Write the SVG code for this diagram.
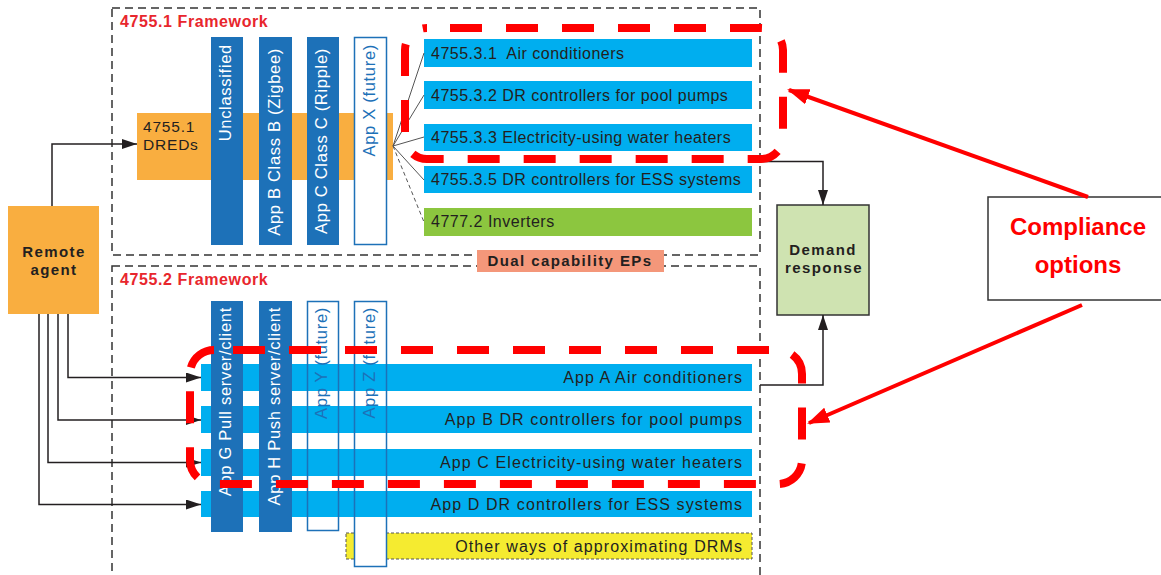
<svg xmlns="http://www.w3.org/2000/svg" width="1161" height="575" viewBox="0 0 1161 575">
<defs>
<style>
.frame{fill:none;stroke:#333;stroke-width:1.5;stroke-dasharray:8 5}
.ftitle{font-family:"Liberation Sans",Arial,sans-serif;font-weight:bold;font-size:16px;fill:#E8262D;letter-spacing:0.6px}
.orange{fill:#F9AE40}
.dbar{fill:#1D71B8}
.wbar{fill:#fff}
.wbord{fill:none;stroke:#1D71B8;stroke-width:1.5}
.row{fill:#00AEEF}
.green{fill:#8CC63F}
.vt{font-family:"Liberation Sans",Arial,sans-serif;font-size:16.5px;fill:#fff;letter-spacing:0.7px}
.vtb{font-family:"Liberation Sans",Arial,sans-serif;font-size:16.5px;fill:#1D71B8;letter-spacing:0.7px}
.rt{font-family:"Liberation Sans",Arial,sans-serif;font-size:16px;fill:#231F20;letter-spacing:0.5px}
.rtb{font-family:"Liberation Sans",Arial,sans-serif;font-size:16px;fill:#231F20;letter-spacing:1.1px;text-anchor:end}
.bold{font-family:"Liberation Sans",Arial,sans-serif;font-weight:bold;font-size:15px;fill:#231F20;letter-spacing:1.4px;text-anchor:middle}
.reg{font-family:"Liberation Sans",Arial,sans-serif;font-size:15.5px;fill:#231F20;letter-spacing:0.8px}
.conn{fill:none;stroke:#231F20;stroke-width:1.5}
.fan{fill:none;stroke:#555;stroke-width:1}
.reddash{fill:none;stroke:#FF0000;stroke-width:8;stroke-dasharray:32 24}
.redline{fill:none;stroke:#FF0000;stroke-width:4}
</style>
<marker id="ah" markerWidth="15" markerHeight="10" refX="15" refY="5" orient="auto" markerUnits="userSpaceOnUse">
<path d="M0,0 L15,5 L0,10 z" fill="#231F20"/>
</marker>
<marker id="rah" markerWidth="22" markerHeight="16" refX="20" refY="8" orient="auto" markerUnits="userSpaceOnUse">
<path d="M0,0 L22,8 L0,16 z" fill="#FF0000"/>
</marker>
</defs>

<g id="framework-4755-1">
<rect class="frame" x="112" y="8" width="648" height="247"/>
<text class="ftitle" x="120" y="27">4755.1 Framework</text>
</g>
<g id="framework-4755-2">
<rect class="frame" x="112" y="266" width="648" height="330"/>
<text class="ftitle" x="120" y="285">4755.2 Framework</text>
</g>

<g id="dual-capability">
<rect x="477" y="250" width="187" height="22" fill="#F4977A"/>
<text class="bold" x="570" y="266">Dual capability EPs</text>
</g>

<g id="dreds">
<rect class="orange" x="137" y="113" width="256" height="67"/>
<text class="reg" x="143" y="132">4755.1</text>
<text class="reg" x="143" y="150">DREDs</text>
</g>

<g id="unclassified">
<rect class="dbar" x="211" y="37" width="32" height="208"/>
<text class="vt" text-anchor="end" transform="translate(231,44) rotate(-90)">Unclassified</text>
</g>
<g id="app-b-zigbee">
<rect class="dbar" x="259" y="37" width="33" height="208"/>
<text class="vt" text-anchor="end" transform="translate(279.5,48) rotate(-90)">App B Class B (Zigbee)</text>
</g>
<g id="app-c-ripple">
<rect class="dbar" x="307" y="37" width="32" height="208"/>
<text class="vt" text-anchor="end" transform="translate(327,48) rotate(-90)">App C Class C (Ripple)</text>
</g>
<g id="app-x">
<rect class="wbar" x="354" y="37" width="33" height="208"/>
<rect class="wbord" x="354.5" y="37.5" width="32" height="207"/>
<text class="vtb" text-anchor="end" transform="translate(375,44) rotate(-90)">App X (future)</text>
</g>

<g id="r4755-3-1">
<rect class="row" x="424" y="39" width="328" height="28"/>
<text class="rt" x="431" y="59" xml:space="preserve">4755.3.1  Air conditioners</text>
</g>
<g id="r4755-3-2">
<rect class="row" x="424" y="81" width="328" height="28"/>
<text class="rt" x="431" y="101">4755.3.2 DR controllers for pool pumps</text>
</g>
<g id="r4755-3-3">
<rect class="row" x="424" y="124" width="328" height="27"/>
<text class="rt" x="431" y="143">4755.3.3 Electricity-using water heaters</text>
</g>
<g id="r4755-3-5">
<rect class="row" x="424" y="166" width="328" height="27"/>
<text class="rt" x="431" y="185">4755.3.5 DR controllers for ESS systems</text>
</g>
<g id="r4777-2">
<rect class="green" x="424" y="208" width="328" height="28"/>
<text class="rt" x="431" y="227">4777.2 Inverters</text>
</g>

<g id="remote-agent">
<rect class="orange" x="8" y="206" width="91" height="108"/>
<text class="bold" x="54" y="257">Remote</text>
<text class="bold" x="54" y="275">agent</text>
</g>

<g id="demand-response">
<rect x="777" y="205" width="92" height="110" fill="#CFE3B1" stroke="#333" stroke-width="1.5"/>
<text class="bold" x="823" y="255">Demand</text>
<text class="bold" x="824" y="273">response</text>
</g>

<g id="other-ways">
<rect x="346" y="533" width="406" height="26" fill="#F5EB30" stroke="#555" stroke-width="1" stroke-dasharray="3 2"/>
</g>
<g id="app-y-bg"><rect class="wbar" x="307" y="301" width="32" height="230"/></g>
<g id="app-z-bg"><rect class="wbar" x="354" y="301" width="33" height="266"/></g>

<g id="app-a">
<rect class="row" x="201" y="364" width="551" height="27"/>
<text class="rtb" x="743" y="383">App A Air conditioners</text>
</g>
<g id="app-b">
<rect class="row" x="201" y="406" width="551" height="27"/>
<text class="rtb" x="743" y="425">App B DR controllers for pool pumps</text>
</g>
<g id="app-c">
<rect class="row" x="201" y="449" width="551" height="27"/>
<text class="rtb" x="743" y="468">App C Electricity-using water heaters</text>
</g>
<g id="app-d">
<rect class="row" x="201" y="491" width="551" height="26"/>
<text class="rtb" x="743" y="510">App D DR controllers for ESS systems</text>
</g>
<g id="other-ways-text">
<text class="rtb" x="743" y="552">Other ways of approximating DRMs</text>
</g>

<g id="app-g">
<rect class="dbar" x="211" y="301" width="32" height="231"/>
<text class="vt" text-anchor="end" transform="translate(231,307) rotate(-90)">App G Pull server/client</text>
</g>
<g id="app-h">
<rect class="dbar" x="259" y="301" width="33" height="231"/>
<text class="vt" text-anchor="end" transform="translate(279.5,307) rotate(-90)">App H Push server/client</text>
</g>
<g id="app-y">
<rect class="wbord" x="307.5" y="301.5" width="31" height="229"/>
<text class="vtb" text-anchor="end" transform="translate(327,307) rotate(-90)">App Y (future)</text>
</g>
<g id="app-z">
<rect class="wbord" x="354.5" y="301.5" width="32" height="265"/>
<text class="vtb" text-anchor="end" transform="translate(375,307) rotate(-90)">App Z (future)</text>
</g>

<g id="compliance-options">
<rect x="988" y="197" width="185" height="103" fill="#fff" stroke="#333" stroke-width="1.5"/>
<text x="1078" y="235" text-anchor="middle" font-family="Liberation Sans, Arial, sans-serif" font-weight="bold" font-size="24" fill="#FF0000">Compliance</text>
<text x="1078" y="273" text-anchor="middle" font-family="Liberation Sans, Arial, sans-serif" font-weight="bold" font-size="24" fill="#FF0000">options</text>
</g>

<g id="connectors">
<path class="conn" d="M52,206 V144 H137" marker-end="url(#ah)"/>
<path class="conn" d="M68,314 V377.5 H201" marker-end="url(#ah)"/>
<path class="conn" d="M58,314 V420 H201" marker-end="url(#ah)"/>
<path class="conn" d="M48,314 V462.5 H201" marker-end="url(#ah)"/>
<path class="conn" d="M39,314 V504.5 H201" marker-end="url(#ah)"/>
<path class="fan" d="M393,146 L424,53 M393,146 L424,95 M393,146 L424,137 M393,146 L424,180"/>
<path class="fan" d="M393,146 L424,222" stroke-dasharray="4 3"/>
<path class="conn" d="M760,161.5 H823 V205" marker-end="url(#ah)"/>
<path class="conn" d="M760,385 H823 V315" marker-end="url(#ah)"/>
<path class="reddash" stroke-dashoffset="33" d="M427,28 H761 A22,22 0 0 1 783,50 V137 A22,22 0 0 1 761,159 H427 A22,22 0 0 1 405,137 V50 A22,22 0 0 1 427,28"/>
<path class="reddash" stroke-dashoffset="37" d="M214,350 H778 A24,24 0 0 1 802,374 V460 A24,24 0 0 1 778,484 H214 A24,24 0 0 1 190,460 V374 A24,24 0 0 1 214,350"/>
<path class="redline" d="M1088,197 L789,90" marker-end="url(#rah)"/>
<path class="redline" d="M1082,305 L809,423" marker-end="url(#rah)"/>
</g>
</svg>
